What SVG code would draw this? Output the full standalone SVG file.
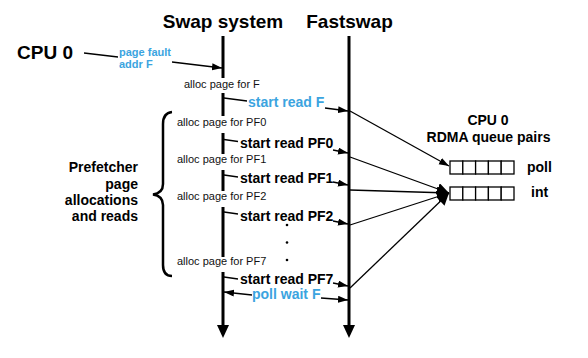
<svg xmlns="http://www.w3.org/2000/svg" width="588" height="358" viewBox="0 0 588 358">
  <style>
    .hdr { font-family: "Liberation Sans", Arial, sans-serif; font-weight: bold; font-size: 19px; fill: #000; }
    .lbl { font-family: "Liberation Sans", Arial, sans-serif; font-weight: bold; font-size: 14px; fill: #000; }
    .blue { fill: #3ba4e0; }
    .small { font-family: "Liberation Sans", Arial, sans-serif; font-weight: bold; font-size: 11px; }
    .alloc { font-family: "Liberation Sans", Arial, sans-serif; font-size: 11px; fill: #111; }
    .axis { stroke: #000; stroke-width: 3; fill: none; }
    .thin { stroke: #000; stroke-width: 1.3; fill: none; }
    .arr { stroke: #000; stroke-width: 1.3; fill: none; marker-end: url(#head); }
    .cell { fill: #fff; stroke: #000; stroke-width: 1.3; }
    .mask { fill: #fff; }
  </style>
  <defs>
    <marker id="head" markerUnits="userSpaceOnUse" markerWidth="11" markerHeight="8" refX="10" refY="3.5" orient="auto">
      <path d="M0,0 L10,3.5 L0,7 z" fill="#000"/>
    </marker>
    <marker id="bighead" markerUnits="userSpaceOnUse" markerWidth="13" markerHeight="14" refX="12" refY="6" orient="auto">
      <path d="M0,0 L12,6 L0,12 z" fill="#000"/>
    </marker>
  </defs>

  <rect width="588" height="358" fill="#fff"/>

  <!-- timelines -->
  <g id="swap-system">
    <text class="hdr" x="223" y="28" text-anchor="middle">Swap system</text>
    <line class="axis" x1="223" y1="36" x2="223" y2="326"/>
    <path d="M217,325 L229,325 L223,338 z" fill="#000"/>
  </g>
  <g id="fastswap">
    <text class="hdr" x="349.5" y="28" text-anchor="middle">Fastswap</text>
    <line class="axis" x1="349" y1="36" x2="349" y2="326"/>
    <path d="M343,325 L355,325 L349,338 z" fill="#000"/>
  </g>

  <!-- allocation labels sit on the swap timeline, breaking it -->
  <g id="allocs">
    <rect class="mask" x="215" y="78" width="16" height="15"/>
    <text class="alloc" x="184" y="88">alloc page for F</text>
    <rect class="mask" x="215" y="116" width="16" height="17"/>
    <text class="alloc" x="177" y="126">alloc page for PF0</text>
    <rect class="mask" x="215" y="154" width="16" height="16"/>
    <text class="alloc" x="177" y="163">alloc page for PF1</text>
    <rect class="mask" x="215" y="191" width="16" height="16"/>
    <text class="alloc" x="177" y="200">alloc page for PF2</text>
    <rect class="mask" x="215" y="257" width="16" height="15"/>
    <text class="alloc" x="177" y="265">alloc page for PF7</text>
  </g>

  <g id="cpu0">
    <text class="hdr" x="17" y="59">CPU 0</text>
    <text class="small blue" x="119" y="56">page fault</text>
    <text class="small blue" x="119" y="68">addr F</text>
  </g>

  <g id="prefetcher">
    <text class="lbl" text-anchor="end" x="138" y="172">Prefetcher</text>
    <text class="lbl" text-anchor="end" x="138" y="188.5">page</text>
    <text class="lbl" text-anchor="end" x="138" y="205">allocations</text>
    <text class="lbl" text-anchor="end" x="138" y="221">and reads</text>
    <path d="M172,112 Q163,113 163,124 L163,184 Q163,193 153,194.5 Q163,196 163,205 L163,265 Q163,276 172,276" fill="none" stroke="#000" stroke-width="2.5"/>
  </g>

  <g id="reads">
    <text class="lbl blue" x="248" y="107">start read F</text>
    <text class="lbl" x="240" y="148">start read PF0</text>
    <text class="lbl" x="240" y="183">start read PF1</text>
    <text class="lbl" x="240" y="221">start read PF2</text>
    <text class="lbl" x="240" y="284">start read PF7</text>
    <text class="lbl blue" x="252" y="299">poll wait F</text>
    <circle cx="287" cy="225" r="1.3" fill="#000"/>
    <circle cx="287" cy="242.5" r="1.3" fill="#000"/>
    <circle cx="287" cy="260" r="1.3" fill="#000"/>
  </g>

  <g id="queue-pairs">
    <text class="lbl" x="488" y="125" text-anchor="middle">CPU 0</text>
    <text class="lbl" x="488.5" y="142" text-anchor="middle">RDMA queue pairs</text>
    <g id="poll-queue">
      <rect class="cell" x="450" y="161" width="12.8" height="13"/>
      <rect class="cell" x="462.8" y="161" width="12.8" height="13"/>
      <rect class="cell" x="475.6" y="161" width="12.8" height="13"/>
      <rect class="cell" x="488.4" y="161" width="12.8" height="13"/>
      <rect class="cell" x="501.2" y="161" width="12.8" height="13"/>
      <text class="lbl" x="527" y="172">poll</text>
    </g>
    <g id="int-queue">
      <rect class="cell" x="450" y="187" width="12.8" height="13"/>
      <rect class="cell" x="462.8" y="187" width="12.8" height="13"/>
      <rect class="cell" x="475.6" y="187" width="12.8" height="13"/>
      <rect class="cell" x="488.4" y="187" width="12.8" height="13"/>
      <rect class="cell" x="501.2" y="187" width="12.8" height="13"/>
      <text class="lbl" x="531" y="197">int</text>
    </g>
  </g>

  <g id="connectors">
    <!-- page fault -->
    <line class="thin" x1="84" y1="53" x2="118" y2="57"/>
    <line class="arr" x1="172" y1="62" x2="222" y2="68"/>
    <!-- ticks from swap timeline to read labels -->
    <line class="thin" x1="224" y1="98" x2="247" y2="101"/>
    <line class="thin" x1="224" y1="139.5" x2="238" y2="141.5"/>
    <line class="thin" x1="224" y1="175" x2="238" y2="177"/>
    <line class="thin" x1="224" y1="212" x2="238" y2="214"/>
    <line class="thin" x1="224" y1="277" x2="238" y2="279"/>
    <!-- reads handed to fastswap -->
    <line class="arr" x1="325" y1="108" x2="348" y2="111"/>
    <line class="arr" x1="333" y1="150" x2="348" y2="153"/>
    <line class="arr" x1="333" y1="182" x2="348" y2="185"/>
    <line class="arr" x1="333" y1="221" x2="348" y2="224"/>
    <line class="arr" x1="333" y1="283" x2="348" y2="286"/>
    <line class="arr" x1="321" y1="298" x2="348" y2="300"/>
    <!-- poll wait back to swap system -->
    <line class="arr" x1="252" y1="295" x2="224" y2="292"/>
    <!-- fastswap to queue pairs -->
    <line class="arr" x1="350" y1="111" x2="449" y2="166"/>
    <line class="thin" x1="350" y1="157" x2="449" y2="193" marker-end="url(#bighead)"/>
    <line class="thin" x1="350" y1="190" x2="449" y2="193" marker-end="url(#bighead)"/>
    <line class="thin" x1="350" y1="225" x2="449" y2="193" marker-end="url(#bighead)"/>
    <line class="thin" x1="350" y1="288" x2="449" y2="193" marker-end="url(#bighead)"/>
  </g>
</svg>
